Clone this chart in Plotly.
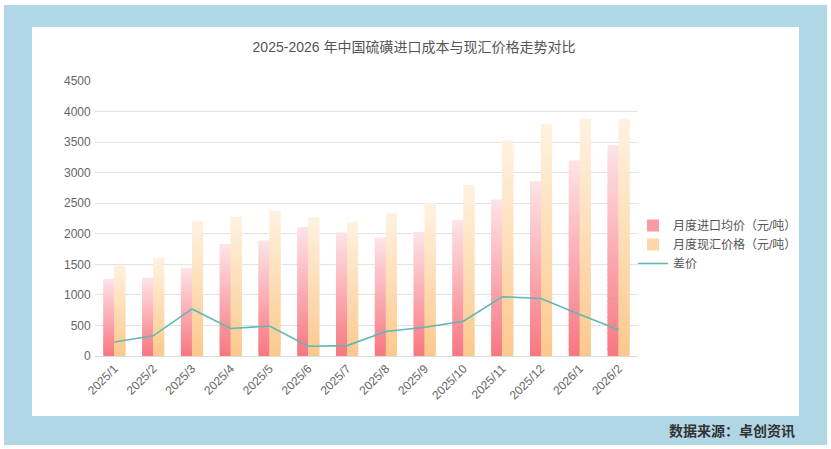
import plotly.graph_objects as go

months = ["2025/1", "2025/2", "2025/3", "2025/4", "2025/5", "2025/6", "2025/7",
          "2025/8", "2025/9", "2025/10", "2025/11", "2025/12", "2026/1", "2026/2"]
import_price = [1260, 1280, 1440, 1830, 1890, 2110, 2020,
                1940, 2030, 2230, 2560, 2860, 3200, 3450]
spot_price = [1490, 1610, 2210, 2280, 2380, 2270, 2190,
              2340, 2500, 2800, 3530, 3800, 3880, 3880]
spread = [230, 330, 770, 450, 490, 160, 170,
          400, 470, 570, 970, 940, 680, 430]

W, H = 831, 449
L, R, T, B = 95, 193, 81, 93
pw, ph = W - L - R, H - T - B


def px_x(p):
    return (p - L) / pw


def px_y(p):
    return (H - B - p) / ph


def mix(c1, c2, t):
    return "rgb(%d,%d,%d)" % tuple(round(a + (b - a) * t) for a, b in zip(c1, c2))


N = 40  # slices per bar to fake the vertical gradient
red_bottom, red_top = (248, 118, 128), (253, 228, 232)
org_bottom, org_top = (252, 200, 140), (255, 242, 224)

fig = go.Figure()

for name, vals, c_bot, c_top, grp in [
    ("月度进口均价（元/吨）", import_price, red_bottom, red_top, "imp"),
    ("月度现汇价格（元/吨）", spot_price, org_bottom, org_top, "spot"),
]:
    for i in range(N):
        t = (i + 0.5) / N
        # slices overlap a little so no seams show between them
        fig.add_trace(go.Bar(
            x=months,
            y=[min(v * (i + 1.8) / N, v) - v * i / N for v in vals],
            base=[v * i / N for v in vals],
            offsetgroup=grp,
            legendgroup=grp,
            name=name,
            showlegend=False,
            marker=dict(color=mix(c_bot, c_top, t), line=dict(width=0)),
            hoverinfo="skip",
        ))
    # legend entry only
    fig.add_trace(go.Bar(
        x=[months[0]], y=[None], name=name, legendgroup=grp, offsetgroup=grp,
        marker=dict(color=mix(c_bot, c_top, 0.35), line=dict(width=0)),
    ))

fig.add_trace(go.Scatter(
    x=months, y=spread, name="差价", mode="lines",
    line=dict(color="#5fb8b2", width=1.6),
))

shapes = [
    dict(type="rect", xref="paper", yref="paper",
         x0=px_x(4), x1=px_x(827), y0=px_y(445), y1=px_y(5),
         fillcolor="#b1d6e6", line=dict(width=0), layer="below"),
    dict(type="rect", xref="paper", yref="paper",
         x0=px_x(32), x1=px_x(799), y0=px_y(416), y1=px_y(27),
         fillcolor="white", line=dict(width=0), layer="below"),
]

fig.update_layout(
    width=W, height=H,
    margin=dict(l=L, r=R, t=T, b=B, pad=0),
    paper_bgcolor="white",
    plot_bgcolor="rgba(0,0,0,0)",
    barmode="group",
    bargap=0.43,
    bargroupgap=0,
    shapes=shapes,
    font=dict(family="Liberation Sans, Noto Sans CJK SC", size=12, color="#666"),
    title=dict(text="2025-2026 年中国硫磺进口成本与现汇价格走势对比",
               x=px_x(414), xref="paper", xanchor="center",
               y=1 - 47 / H, yanchor="middle",
               font=dict(size=14, color="#555")),
    legend=dict(x=px_x(633), y=px_y(211), xanchor="left", yanchor="top",
                bgcolor="rgba(0,0,0,0)", font=dict(size=12, color="#555"),
                tracegroupgap=0, itemwidth=30, traceorder="normal"),
    annotations=[dict(text="<b>数据来源：卓创资讯</b>", xref="paper", yref="paper",
                      x=px_x(797), y=px_y(431), xanchor="right", yanchor="middle",
                      showarrow=False, font=dict(size=14, color="#333"))],
)

fig.update_xaxes(
    tickangle=-45, showgrid=False, showline=True, linecolor="#dddddd",
    linewidth=1, ticks="", tickfont=dict(size=12, color="#666"),
)
fig.update_yaxes(
    range=[0, 4500], dtick=500, showgrid=True, gridcolor="#e3e3e3",
    gridwidth=1, zeroline=False, showline=False, ticks="",
    tickfont=dict(size=12, color="#666"), ticksuffix=" ",
)

fig.write_html("out.html", config={"displayModeBar": False},
               post_script="document.body.style.margin='0';")
